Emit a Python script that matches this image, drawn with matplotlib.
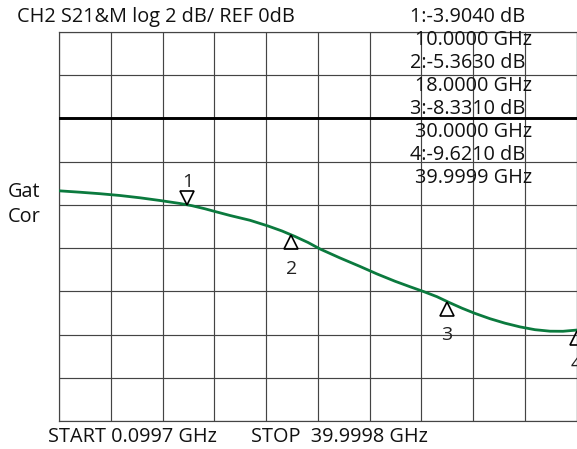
import numpy as np
import matplotlib
matplotlib.use('Agg')
import matplotlib.pyplot as plt
from matplotlib.transforms import offset_copy

plt.rcParams['font.family'] = ['Open Sans', 'DejaVu Sans']

# trace (GHz, dB)
freq = [0.0997, 1.719, 3.261, 4.803, 6.345, 7.887, 9.429, 10.354, 11.356, 12.127,
        13.284, 14.826, 16.214, 17.293, 18.296, 19.298, 20.223, 21.765, 23.307,
        24.618, 26.006, 27.162, 28.242, 29.244, 30.169, 31.172, 32.174, 33.331,
        34.487, 35.644, 36.800, 37.957, 38.959, 39.9998]
s21 = [-3.351, -3.416, -3.485, -3.568, -3.674, -3.799, -3.937, -4.039, -4.182, -4.307,
       -4.491, -4.713, -4.976, -5.207, -5.461, -5.738, -6.038, -6.453, -6.845,
       -7.192, -7.529, -7.783, -8.013, -8.244, -8.507, -8.775, -9.015, -9.260,
       -9.467, -9.638, -9.768, -9.837, -9.841, -9.786]

mk_id = ['1', '2', '3', '4']
mk_freq = [10.0, 18.0, 30.0, 39.9999]
mk_db = [-3.904, -5.363, -8.331, -9.621]
mk_dir = ['down', 'up', 'up', 'up']

f_start = 0.0997
f_stop = 39.9998
ref = 0.0
scale = 2.0

W, H = 577, 449
fig = plt.figure(figsize=(W/100, H/100), dpi=100)
ax = fig.add_axes([59/W, 1-421.3/H, (576.5-59)/W, (421.3-31.7)/H])

ax.set_xlim(f_start, f_stop)
ax.set_ylim(ref - 7*scale, ref + 2*scale)
ax.set_xticks(np.linspace(f_start, f_stop, 11))
ax.set_yticks(np.arange(ref - 7*scale, ref + 2*scale + 0.1, scale))
ax.tick_params(length=0, labelbottom=False, labelleft=False)
ax.grid(True, color='#444444', lw=0.85)
for s in ax.spines.values():
    s.set_color('#444444')
    s.set_linewidth(0.85)
ax.axhline(ref, color='black', lw=2.1, zorder=3)

ax.plot(freq, s21, color='#0b7a3e', lw=2.0, zorder=4, solid_joinstyle='round')

# markers
for i in range(len(mk_id)):
    y = np.interp(mk_freq[i], freq, s21)
    if mk_dir[i] == 'down':
        tr = offset_copy(ax.transData, fig=fig, x=0, y=6.5, units='dots')
        ax.plot(mk_freq[i], y, marker='v', ms=9.4, mfc='none', mec='black', mew=1.2,
                transform=tr, clip_on=False, zorder=5)
        tt = offset_copy(ax.transData, fig=fig, x=0, y=17.5, units='dots')
        ax.text(mk_freq[i], y, mk_id[i], transform=tt, ha='center', va='baseline',
                fontsize=14, color='#222222', clip_on=False)
    else:
        tr = offset_copy(ax.transData, fig=fig, x=0, y=-7.5, units='dots')
        ax.plot(mk_freq[i], y, marker='^', ms=9.4, mfc='none', mec='black', mew=1.2,
                transform=tr, clip_on=False, zorder=5)
        tt = offset_copy(ax.transData, fig=fig, x=0, y=-39, units='dots')
        ax.text(mk_freq[i], y, mk_id[i], transform=tt, ha='center', va='baseline',
                fontsize=14, color='#222222', clip_on=False)

fs = 14.3
def px(x, y):
    return x/W, 1-y/H

fig.text(*px(17, 21.7), 'CH2 S21&M log 2 dB/ REF 0dB', fontsize=fs, va='baseline', color='#111111')
fig.text(*px(8, 196.7), 'Gat', fontsize=fs, va='baseline', color='#111111')
fig.text(*px(8, 221.7), 'Cor', fontsize=fs, va='baseline', color='#111111')
fig.text(*px(47.7, 441.7), 'START %.4f GHz' % f_start, fontsize=fs, va='baseline', color='#111111')
fig.text(*px(250.7, 441.7), 'STOP  %.4f GHz' % f_stop, fontsize=fs, va='baseline', color='#111111')

for i in range(len(mk_id)):
    fig.text(*px(410, 21.7 + 2*i*23.1), '%s:%.4f dB' % (mk_id[i], mk_db[i]),
             fontsize=fs, va='baseline', zorder=6, color='#111111')
    fig.text(*px(415, 21.7 + (2*i+1)*23.1), '%.4f GHz' % mk_freq[i],
             fontsize=fs, va='baseline', zorder=6, color='#111111')

fig.savefig('out.png', dpi=100)
